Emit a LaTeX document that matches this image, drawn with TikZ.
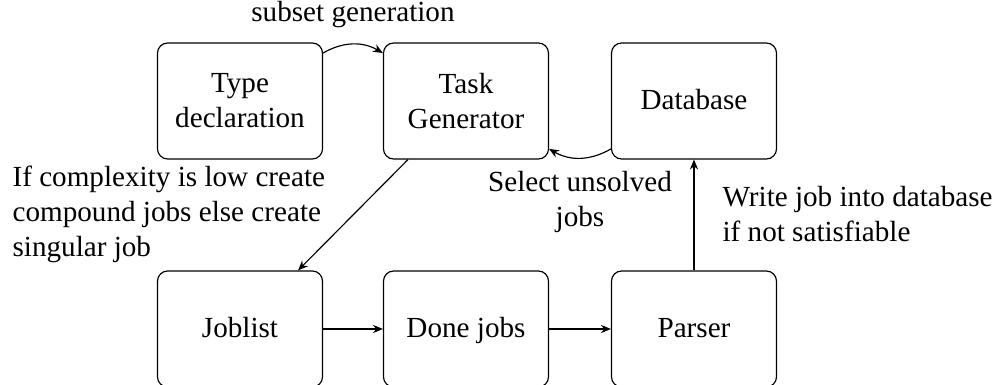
\documentclass[tikz,border=0pt]{standalone}
\usepackage{fontspec}
\setmainfont{Liberation Serif}
\usetikzlibrary{arrows.meta}
\begin{document}
\begin{tikzpicture}[x=0.343pt,y=-0.343pt,
  box/.style={draw,rounded corners=3.5pt,minimum width=56.6pt,minimum height=39.8pt,align=center,inner sep=2pt},
  one/.style={text height=1.6ex,text depth=0.4ex},
  lbl/.style={inner sep=0pt},
  arr/.style={-{Stealth[length=3.4pt,width=2.8pt]},line width=0.4pt}]
\useasboundingbox (0,0) rectangle (1003,385);
\begin{scope}
\clip (0,0) rectangle (1003,385);
\node[box] (td) at (240,101) {Type\\declaration};
\node[box] (tg) at (466,101) {Task\\Generator};
\node[box,one] (db) at (694,101) {Database};
\node[box,one] (jl) at (240,329) {Joblist};
\node[box,one] (dj) at (466,329) {Done jobs};
\node[box,one] (ps) at (694,329) {Parser};
\end{scope}
\draw[arr] (td) to[bend left] (tg);
\node[lbl] (l1) at (353,15) {subset generation};
\draw[arr] (db) to[bend left] (tg);
\node[lbl,align=center] (l2) at (580,202) {Select unsolved\\jobs};
\draw[arr] (tg) -- (jl);
\node[lbl,align=left,anchor=west] (l3) at (12,214) {If complexity is low create\\compound jobs else create\\singular job};
\draw[arr] (jl) -- (dj);
\draw[arr] (dj) -- (ps);
\draw[arr] (ps) -- (db);
\node[lbl,align=left,anchor=west] (l4) at (722,214) {Write job into database\\if not satisfiable};
\end{tikzpicture}
\end{document}
